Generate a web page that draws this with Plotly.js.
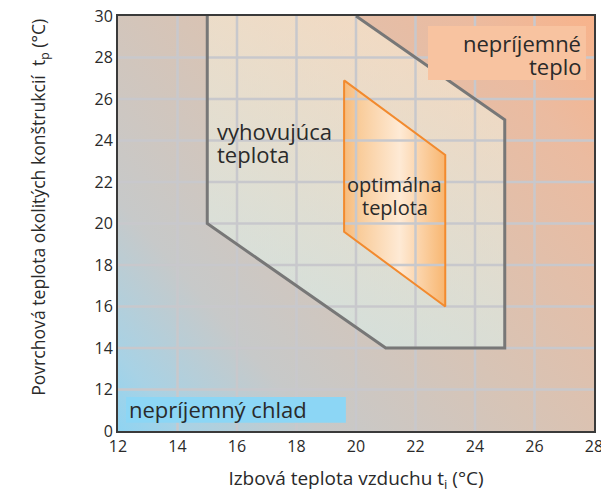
<!DOCTYPE html>
<html>
<head>
<meta charset="utf-8">
<script src="https://cdn.plot.ly/plotly-3.0.1.min.js"></script>
<style>html,body{margin:0;padding:0;background:#fff;}#chart{width:601px;height:493px;}</style>
</head>
<body>
<div id="chart"></div>
<script>
// ---- data ----
const xTicks = [12, 14, 16, 18, 20, 22, 24, 26, 28];
const xTickText = ['12', '14', '16', '18', '20', '22', '24', '26', '28'];
const yTicks = [10, 12, 14, 16, 18, 20, 22, 24, 26, 28, 30];
const yTickText = ['0', '12', '14', '16', '18', '20', '22', '24', '26', '28', '30'];
// "vyhovujúca teplota" zone outline (air temp, surface temp)
const zoneX = [15, 15, 21, 25, 25, 20];
const zoneY = [30, 20, 14, 14, 25, 30];
// "optimálna teplota" zone
const optX = [19.6, 23, 23, 19.6];
const optY = [26.9, 23.3, 16, 19.6];
const suitableLines = ['vyhovujúca', 'teplota'];
const optimalLines = ['optimálna', 'teplota'];
const hotLines = ['nepríjemné', 'teplo'];
const coldText = 'nepríjemný chlad';
const xTitle = 'Izbová teplota vzduchu t<sub>i</sub> (°C)';
const yTitle = 'Povrchová teplota okolitých konštrukcií  t<sub>p</sub> (°C)';

// ---- background gradient image ----
const cv = document.createElement('canvas');
cv.width = 476; cv.height = 415;
const ctx = cv.getContext('2d');
const g = ctx.createLinearGradient(0, cv.height, cv.width, 0);
g.addColorStop(0.0, '#8fd4f2');
g.addColorStop(0.08, '#a8d2e5');
g.addColorStop(0.24, '#c7c9c9');
g.addColorStop(0.5, '#d7c4b6');
g.addColorStop(0.84, '#ebbba0');
g.addColorStop(1.0, '#f8b38b');
ctx.fillStyle = g;
ctx.fillRect(0, 0, cv.width, cv.height);
const bgImg = cv.toDataURL('image/png');

const xMin = xTicks[0], xMax = xTicks[xTicks.length - 1];
const yMin = yTicks[0], yMax = yTicks[yTicks.length - 1];

const FONT = '"Open Sans", "Noto Sans", sans-serif';
const TXT = '#2a2a2a';
const GRID = '#c8c8cc';

const traces = [
  { // suitable zone fill
    x: zoneX, y: zoneY, type: 'scatter', mode: 'none', fill: 'toself',
    fillgradient: { type: 'vertical', colorscale: [[0, 'rgba(218,248,246,0.5)'], [1, 'rgba(255,246,222,0.5)']] },
    hoverinfo: 'skip', showlegend: false
  },
  { // optimal zone fill
    x: optX, y: optY, type: 'scatter', mode: 'none', fill: 'toself',
    fillgradient: { type: 'horizontal', colorscale: [[0, '#f7bb7c'], [0.15, '#f9cc9a'], [0.55, '#feead5'], [1, '#f8b670']] },
    hoverinfo: 'skip', showlegend: false
  }
];
// grid lines, one trace each, built from the tick arrays
xTicks.slice(1, -1).forEach(v => traces.push({
  x: [v, v], y: [yMin, yMax], type: 'scatter', mode: 'lines',
  line: { color: GRID, width: 2.5 }, hoverinfo: 'skip', showlegend: false
}));
yTicks.slice(1, -1).forEach(v => traces.push({
  x: [xMin, xMax], y: [v, v], type: 'scatter', mode: 'lines',
  line: { color: GRID, width: 2.5 }, hoverinfo: 'skip', showlegend: false
}));
traces.push({ // suitable zone outline
  x: zoneX, y: zoneY, type: 'scatter', mode: 'lines',
  line: { color: '#777777', width: 3 }, hoverinfo: 'skip', showlegend: false
});
traces.push({ // optimal zone outline
  x: optX.concat([optX[0]]), y: optY.concat([optY[0]]), type: 'scatter', mode: 'lines',
  line: { color: '#f28a2e', width: 2 }, hoverinfo: 'skip', showlegend: false
});

function txt(text, x, y, xanchor, size) {
  return { x: x, y: y, xref: 'x', yref: 'y', text: text, showarrow: false,
    xanchor: xanchor, yanchor: 'middle', align: xanchor === 'center' ? 'center' : xanchor,
    font: { size: size, color: TXT, family: FONT } };
}

const layout = {
  width: 601, height: 493,
  margin: { l: 118, r: 7, t: 16, b: 62 },
  paper_bgcolor: '#ffffff', plot_bgcolor: 'rgba(0,0,0,0)',
  font: { family: FONT, color: TXT },
  showlegend: false,
  xaxis: {
    range: [xMin, xMax], tickvals: xTicks, ticktext: xTickText,
    showgrid: false, zeroline: false, showline: true, mirror: true,
    linecolor: '#3a3a3a', linewidth: 2, ticks: '', ticklabeloverflow: 'allow',
    tickfont: { size: 16, color: TXT, family: FONT },
    title: { text: xTitle, font: { size: 19, color: TXT, family: FONT }, standoff: 18 }
  },
  yaxis: {
    range: [yMin, yMax], tickvals: yTicks, ticktext: yTickText,
    showgrid: false, zeroline: false, showline: true, mirror: true,
    linecolor: '#3a3a3a', linewidth: 2, ticks: '', ticklabeloverflow: 'allow',
    tickfont: { size: 16, color: TXT, family: FONT }
  },
  images: [{
    source: bgImg, xref: 'x', yref: 'y', x: xMin, y: yMax,
    sizex: xMax - xMin, sizey: yMax - yMin, sizing: 'stretch', layer: 'below'
  }],
  shapes: [
    { type: 'rect', xref: 'x', yref: 'y', x0: 22.42, x1: 27.73, y0: 26.92, y1: 29.52,
      fillcolor: '#f8c3a0', line: { width: 0 }, layer: 'above' },
    { type: 'rect', xref: 'x', yref: 'y', x0: 12.27, x1: 19.66, y0: 10.40, y1: 11.64,
      fillcolor: '#8cd6f5', line: { width: 0 }, layer: 'above' }
  ],
  annotations: [
    txt(suitableLines[0], 15.26, 24.48, 'left', 22),
    txt(suitableLines[1], 15.26, 23.33, 'left', 22),
    txt(optimalLines[0], 21.31, 21.88, 'center', 20),
    txt(optimalLines[1], 21.31, 20.77, 'center', 20),
    txt(hotLines[0], 27.63, 28.69, 'right', 22),
    txt(hotLines[1], 27.63, 27.59, 'right', 22),
    txt(coldText, 12.3, 11.06, 'left', 22),
    { // y-axis title
      xref: 'paper', yref: 'paper', x: -0.164, y: 0.54, text: yTitle, showarrow: false,
      textangle: -90, xanchor: 'center', yanchor: 'middle',
      font: { size: 17.6, color: TXT, family: FONT } }
  ]
};

Plotly.newPlot('chart', traces, layout, { displayModeBar: false, staticPlot: true });
</script>
</body>
</html>
